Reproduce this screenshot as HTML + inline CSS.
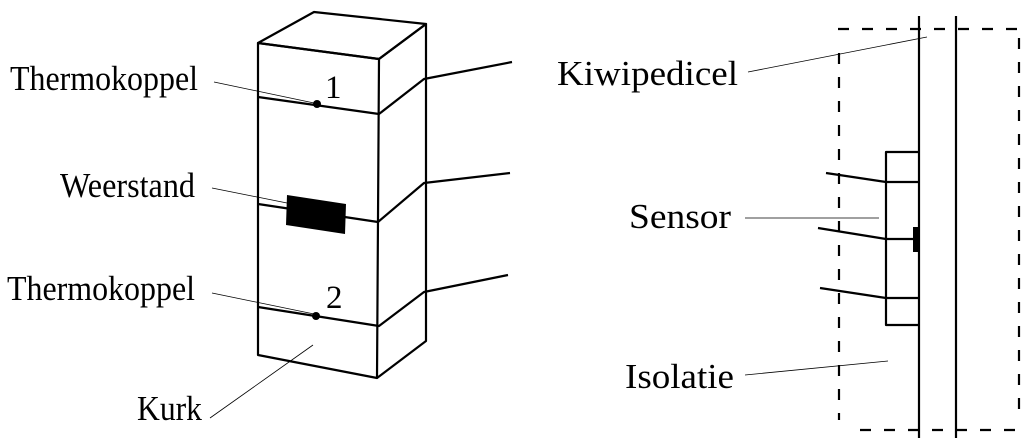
<!DOCTYPE html>
<html><head><style>html,body{margin:0;padding:0;background:#fff}svg{display:block}</style></head>
<body>
<svg width="1035" height="438" viewBox="0 0 1035 438" xmlns="http://www.w3.org/2000/svg">
<g font-family="Liberation Serif, serif" font-size="35" fill="#000">
<text x="10" y="90" textLength="188" lengthAdjust="spacingAndGlyphs">Thermokoppel</text>
<text x="60" y="197" textLength="135" lengthAdjust="spacingAndGlyphs">Weerstand</text>
<text x="7" y="300" textLength="188" lengthAdjust="spacingAndGlyphs">Thermokoppel</text>
<text x="137" y="420" textLength="65" lengthAdjust="spacingAndGlyphs">Kurk</text>
<text x="557" y="85" textLength="181" lengthAdjust="spacingAndGlyphs">Kiwipedicel</text>
<text x="629" y="228" textLength="102" lengthAdjust="spacingAndGlyphs">Sensor</text>
<text x="625" y="388" textLength="109" lengthAdjust="spacingAndGlyphs">Isolatie</text>
<text x="325" y="98" font-size="33">1</text>
<text x="326" y="308" font-size="33">2</text>
</g>
<g stroke="#000" stroke-width="0.8" fill="none">
<line x1="214" y1="82" x2="314" y2="103"/>
<line x1="212" y1="188" x2="287" y2="203"/>
<line x1="212" y1="293" x2="314" y2="314"/>
<line x1="210" y1="418" x2="313" y2="345"/>
<line x1="748" y1="72" x2="927" y2="37"/>
<line x1="745" y1="218" x2="879" y2="218"/>
<line x1="745" y1="375" x2="888" y2="361"/>
</g>
<g stroke="#000" stroke-width="2.2" fill="none" stroke-linejoin="round">
<polygon points="258,43 314,12 426,24 379,59"/>
<polygon points="258,43 379,59 377,378 258,355"/>
<polyline points="379,59 426,24 426,341 377,378"/>
<polyline points="258,97 379,114 424,79 512,62"/>
<polyline points="258,204 378,222 424,183 510,173"/>
<polyline points="258,307 379,326 424,292 508,275"/>
<line x1="919" y1="16" x2="919" y2="438"/>
<line x1="956" y1="16" x2="956" y2="438"/>
<polyline points="919,152 886,152 886,325 919,325"/>
<polyline points="826,173 886,182 919,182"/>
<polyline points="818,228 886,239 919,239"/>
<polyline points="820,288 886,298 919,298"/>
</g>
<g stroke="#000" stroke-width="2.2" fill="none" stroke-dasharray="11,13">
<line x1="838" y1="29" x2="1020" y2="29"/>
<line x1="839" y1="53" x2="839" y2="420"/>
<line x1="1019" y1="38" x2="1019" y2="420"/>
<line x1="860" y1="430" x2="1020" y2="430"/>
</g>
<polygon points="287,195 346,204 345,234 286,225" fill="#000"/>
<circle cx="317" cy="104" r="4" fill="#000"/>
<circle cx="316" cy="316" r="4" fill="#000"/>
<rect x="913" y="227" width="6" height="25" fill="#000"/>
</svg>
</body></html>
